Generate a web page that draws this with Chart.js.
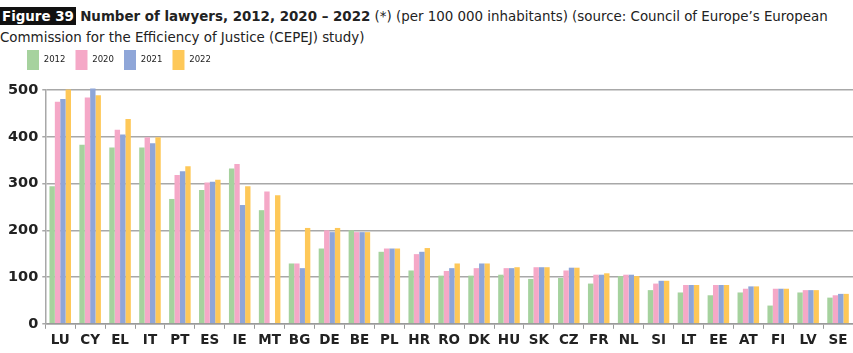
<!DOCTYPE html>
<html>
<head>
<meta charset="utf-8">
<script src="https://cdn.jsdelivr.net/npm/chart.js@4"></script>
<style>
  body { margin: 0; background: #fff; width: 853px; height: 353px; overflow: hidden; position: relative; }
  #title { position: absolute; left: 0; top: 6px; width: 853px; font-family: "DejaVu Sans Condensed", "Liberation Sans Narrow", sans-serif; font-size: 14.9px; line-height: 21px; color: #222; white-space: nowrap; }
  #title .fig { background: #111; color: #fff; font-weight: bold; padding: 0 2px; }
  #title b { font-weight: bold; }
  #wrap { position: absolute; left: 0; top: 40px; width: 853px; height: 313px; }
</style>
</head>
<body>
<div id="title"><span class="fig">Figure 39</span> <b>Number of lawyers, 2012, 2020 – 2022</b> (*) (per 100 000 inhabitants) (source: Council of Europe’s European<br>Commission for the Efficiency of Justice (CEPEJ) study)</div>
<div id="wrap"><canvas id="chart"></canvas></div>
<script>
// valores (abogados por 100 000 habitantes)
const countries = ['LU', 'CY', 'EL', 'IT', 'PT', 'ES', 'IE', 'MT', 'BG', 'DE', 'BE', 'PL', 'HR', 'RO', 'DK', 'HU', 'SK', 'CZ', 'FR', 'NL', 'SI', 'LT', 'EE', 'AT', 'FI', 'LV', 'SE'];
const years = ['2012', '2020', '2021', '2022'];
const values2012 = [294, 383, 377, 377, 267, 286, 332, 243, 129, 161, 200, 154, 114, 103, 103, 105, 96, 98, 86, 102, 72, 67, 61, 67, 39, 67, 56];
const values2020 = [475, 484, 415, 399, 318, 302, 342, 283, 129, 200, 196, 161, 149, 113, 119, 119, 121, 114, 105, 105, 86, 83, 83, 75, 75, 72, 61];
const values2021 = [481, 503, 405, 386, 326, 304, 254, null, 119, 196, 196, 161, 154, 119, 129, 119, 121, 120, 105, 105, 92, 83, 83, 80, 75, 72, 64];
const values2022 = [501, 489, 438, 399, 337, 308, 294, 275, 205, 205, 196, 161, 162, 129, 129, 121, 121, 120, 108, 102, 92, 83, 83, 80, 75, 72, 64];
const yTicks = [0, 100, 200, 300, 400, 500];

const colors = ['#a6d29e', '#f5a8c7', '#8fa6d8', '#fec858'];
const series = [values2012, values2020, values2021, values2022];
const fontFamily = '"DejaVu Sans Condensed", "Liberation Sans Narrow", sans-serif';

// coloca la leyenda como en el original (más a la derecha y más arriba)
const legendShift = {
  id: 'legendShift',
  afterLayout(chart) {
    const lg = chart.legend;
    lg.left += 13;
    lg.right += 13;
    lg.top -= 10;
    lg.bottom -= 10;
  },
};

new Chart(document.getElementById('chart'), {
  type: 'bar',
  data: {
    labels: countries,
    datasets: years.map((y, i) => ({
      label: y,
      data: series[i],
      backgroundColor: colors[i],
      borderWidth: 0,
      clip: false,
      categoryPercentage: 0.72,
      barPercentage: 1,
    })),
  },
  options: {
    responsive: true,
    maintainAspectRatio: false,
    animation: false,
    layout: { padding: { left: 4, right: 0, top: 10, bottom: 0 } },
    plugins: {
      legend: {
        position: 'top',
        align: 'start',
        labels: { boxWidth: 12, boxHeight: 20, padding: 10, color: '#222', font: { family: fontFamily, size: 9.5 } },
      },
      tooltip: { enabled: false },
    },
    scales: {
      x: {
        grid: { display: true, drawOnChartArea: false, drawTicks: true, tickLength: 5, color: '#9a9a9a', offset: true },
        border: { color: '#9a9a9a', width: 1.5 },
        ticks: { color: '#222', padding: 4, font: { family: '"DejaVu Sans", sans-serif', size: 13.5, weight: 'bold' } },
      },
      y: {
        min: 0,
        max: 500,
        afterBuildTicks: (axis) => { axis.ticks = yTicks.map((v) => ({ value: v })); },
        grid: { color: '#a8a8a8', lineWidth: 1.5, tickLength: 3 },
        border: { color: '#a8a8a8', width: 1.5 },
        ticks: { color: '#222', padding: 4, font: { family: '"DejaVu Sans", sans-serif', size: 14.5, weight: 'bold' } },
      },
    },
  },
  plugins: [legendShift],
});
</script>
</body>
</html>
